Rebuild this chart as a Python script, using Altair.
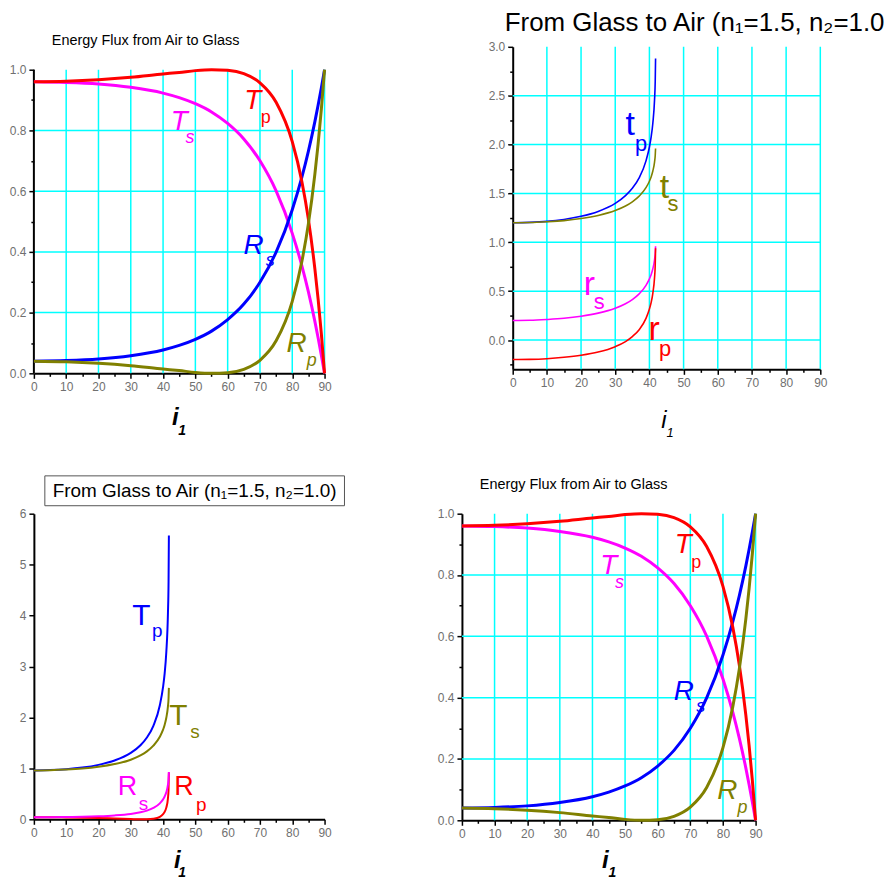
import altair as alt
import pandas as pd

# ---------------- data ----------------
# Energy flux, air -> glass (panels 1 and 4)
ANGLE_AG = [0, 10, 20, 30, 40, 45, 50, 55, 60, 65, 70, 75, 80, 83, 85, 87, 88, 89, 90]
RS_AG = [0.040, 0.042, 0.047, 0.058, 0.077, 0.092, 0.112, 0.139, 0.177, 0.228, 0.300, 0.399, 0.539, 0.647, 0.732, 0.829, 0.883, 0.940, 1.000]
RP_AG = [0.040, 0.038, 0.033, 0.025, 0.014, 0.009, 0.003, 0.000, 0.002, 0.013, 0.043, 0.107, 0.237, 0.370, 0.493, 0.656, 0.755, 0.869, 1.000]
TS_AG = [0.960, 0.958, 0.953, 0.942, 0.923, 0.908, 0.888, 0.861, 0.823, 0.772, 0.700, 0.601, 0.461, 0.353, 0.268, 0.171, 0.117, 0.060, 0.000]
TP_AG = [0.960, 0.962, 0.967, 0.975, 0.986, 0.991, 0.997, 1.000, 0.998, 0.987, 0.957, 0.893, 0.763, 0.630, 0.507, 0.344, 0.245, 0.131, 0.000]

# Glass -> air (panels 2 and 3)
ANGLE_GA = [0, 5, 10, 15, 20, 25, 30, 33, 35, 37, 39, 40, 40.5, 41, 41.5, 41.7, 41.8]
# amplitude coefficients (panel 2)
rs_GA = [0.200, 0.202, 0.210, 0.222, 0.243, 0.275, 0.325, 0.371, 0.414, 0.472, 0.559, 0.625, 0.669, 0.729, 0.821, 0.888, 0.960]
ts_GA = [1.200, 1.202, 1.210, 1.222, 1.243, 1.275, 1.325, 1.371, 1.414, 1.472, 1.559, 1.625, 1.669, 1.729, 1.821, 1.888, 1.960]
rp_GA = [-0.200, -0.198, -0.191, -0.177, -0.156, -0.123, -0.068, -0.016, 0.035, 0.106, 0.222, 0.317, 0.383, 0.478, 0.638, 0.765, 0.940]
tp_GA = [1.200, 1.204, 1.214, 1.234, 1.266, 1.316, 1.398, 1.477, 1.552, 1.659, 1.833, 1.975, 2.075, 2.218, 2.457, 2.647, 2.880]
# energy (panel 3)
RS_GA = [0.040, 0.041, 0.044, 0.049, 0.059, 0.076, 0.106, 0.138, 0.171, 0.223, 0.313, 0.391, 0.448, 0.531, 0.674, 0.789, 0.930]
RP_GA = [0.040, 0.039, 0.037, 0.031, 0.024, 0.015, 0.005, 0.000, 0.001, 0.011, 0.049, 0.101, 0.147, 0.229, 0.407, 0.585, 0.920]
TS_GA = [0.960, 0.964, 0.976, 0.996, 1.030, 1.084, 1.170, 1.253, 1.333, 1.445, 1.620, 1.760, 1.857, 1.993, 2.211, 2.376, 2.580]
TP_GA = [0.960, 0.966, 0.983, 1.015, 1.069, 1.155, 1.303, 1.454, 1.606, 1.835, 2.240, 2.600, 2.869, 3.280, 4.025, 4.671, 5.570]

# tick values
X_TICKS = list(range(0, 95, 5))
GRID_X = list(range(10, 100, 10))
Y_TICKS_E = [round(i * 0.1, 1) for i in range(0, 11)]
GRID_Y_E = [0.2, 0.4, 0.6, 0.8]
Y_TICKS_A = [round(-0.25 + i * 0.25, 2) for i in range(0, 14)]
GRID_Y_A = [0.0, 0.5, 1.0, 1.5, 2.0, 2.5]
Y_TICKS_3 = [i * 0.5 for i in range(0, 13)]

# curve labels (text, angle, value, colour key)
LAB_AG_MAIN = [("T", 67.8, 0.872, "red"), ("T", 45.0, 0.803, "mag"), ("R", 68.0, 0.393, "blue"), ("R", 81.3, 0.070, "olive")]
LAB_AG_SUB_IT = [("s", 48.3, 0.758, "mag"), ("s", 73.2, 0.352, "blue"), ("p", 86.0, 0.025, "olive")]
LAB_AG_SUB_UP = [("p", 71.8, 0.823, "red")]
LAB_A_MAIN = [("t", 34.4, 2.10, "blue"), ("t", 44.4, 1.455, "olive"), ("r", 22.4, 0.46, "mag"), ("r", 41.4, 0.0, "red")]
LAB_A_SUB = [("p", 37.6, 1.93, "blue"), ("s", 46.9, 1.32, "olive"), ("s", 25.3, 0.32, "mag"), ("p", 44.6, -0.16, "red")]
LAB_3_T = [("T", 33.3, 3.81, "blue"), ("T", 44.7, 1.86, "olive")]
LAB_3_R = [("R", 29.0, 0.47, "mag"), ("R", 46.5, 0.47, "red")]
LAB_3_SUB = [("p", 38.2, 3.57, "blue"), ("s", 49.9, 1.60, "olive"), ("s", 33.9, 0.19, "mag"), ("p", 51.8, 0.16, "red")]

TITLE_AG = "Energy Flux from Air to Glass"
TITLE_GA_TOP = "From Glass to Air (n\u2081=1.5, n\u2082=1.0"
TITLE_GA_BOX = "From Glass to Air (n\u2081=1.5, n\u2082=1.0)"

# ---------------- styling ----------------
FONT = "Liberation Sans"
COL = {"red": "#FF0000", "mag": "#FF00FF", "blue": "#0000FF", "olive": "#808000"}
GRID = "#00FFFF"
LABEL_GRAY = "#707070"
ONE = pd.DataFrame({"a": [0]})


def x_axis():
    return alt.Axis(
        values=X_TICKS,
        labelExpr="datum.value % 10 === 0 ? datum.label : ''",
        tickSize={"condition": {"test": "datum.value % 10 === 0", "value": 5}, "value": 3},
        format="d", grid=False, title=None, domainColor="black", domainWidth=2,
        tickColor="black", tickWidth=1.5, labelColor=LABEL_GRAY, labelFont=FONT,
        labelFontSize=12, labelPadding=3, labelFlush=False, labelOverlap=False,
    )


def y_axis(values, test, fmt, domain=True):
    return alt.Axis(
        values=values,
        labelExpr=f"({test}) ? datum.label : ''",
        tickSize={"condition": {"test": test, "value": 5}, "value": 3},
        format=fmt, grid=False, title=None, domain=domain, domainColor="black", domainWidth=2,
        tickColor="black", tickWidth=1.5, labelColor=LABEL_GRAY, labelFont=FONT,
        labelFontSize=12, labelPadding=3, labelFlush=False, labelOverlap=False,
    )


def frame(x1, x2, y1, y2):
    return alt.Chart(ONE).mark_rect(opacity=0).encode(
        x=alt.value(x1), x2=alt.value(x2), y=alt.value(y1), y2=alt.value(y2))


def ptext(txt, x, y, size, style="normal", weight="normal", align="left", color="black"):
    return alt.Chart(ONE).mark_text(
        text=txt, fontSize=size, font=FONT, fontStyle=style, fontWeight=weight,
        align=align, baseline="alphabetic", color=color,
    ).encode(x=alt.value(x), y=alt.value(y))


def curve(xs, ys, color, width, xenc, yenc):
    df = pd.DataFrame({"x": xs, "y": ys})
    return alt.Chart(df).mark_line(color=COL[color], strokeWidth=width, interpolate="monotone").encode(x=xenc, y=yenc)


def labels(rows, size, xenc, yenc, style="normal", weight="normal"):
    df = pd.DataFrame({"t": [r[0] for r in rows], "x": [r[1] for r in rows],
                       "y": [r[2] for r in rows], "c": [COL[r[3]] for r in rows]})
    return alt.Chart(df).mark_text(
        fontSize=size, font=FONT, fontStyle=style, fontWeight=weight, align="center", baseline="alphabetic"
    ).encode(x=xenc, y=yenc, text="t:N", color=alt.Color("c:N", scale=None))


def hgrid(yenc, gy):
    return alt.Chart(pd.DataFrame({"y": gy})).mark_rule(color=GRID, strokeWidth=1.5).encode(y=yenc)


def vgrid(xenc, yenc=None, lo=None, hi=None):
    if yenc is None:
        return alt.Chart(pd.DataFrame({"x": GRID_X})).mark_rule(color=GRID, strokeWidth=1.5).encode(x=xenc)
    df = pd.DataFrame({"x": GRID_X, "y": [lo] * len(GRID_X), "y2": [hi] * len(GRID_X)})
    return alt.Chart(df).mark_rule(color=GRID, strokeWidth=1.5).encode(x=xenc, y=yenc, y2=alt.Y2("y2:Q"))


def y_domain_line(yenc, lo, hi):
    df = pd.DataFrame({"y": [lo], "y2": [hi]})
    return alt.Chart(df).mark_rule(color="black", strokeWidth=2).encode(
        x=alt.value(0), y=yenc, y2=alt.Y2("y2:Q"))


# ---------------- Panel 1 (top-left): plot area extended 23px above 1.0 ----------------
P1_EXTRA = 23
x1 = alt.X("x:Q", scale=alt.Scale(domain=[0, 90], nice=False, zero=False), axis=x_axis())
y1 = alt.Y("y:Q", scale=alt.Scale(domain=[0, 1 + P1_EXTRA / 305], nice=False, zero=False),
           axis=y_axis(Y_TICKS_E, "abs(datum.value*5 - round(datum.value*5)) < 0.001", ".1f", domain=False))
p1 = alt.layer(
    frame(-26, 411, -37, 405),
    vgrid(x1, y1, 0.0, 1.0),
    hgrid(y1, GRID_Y_E),
    y_domain_line(y1, 0.0, 1.0),
    curve(ANGLE_AG, TS_AG, "mag", 3, x1, y1),
    curve(ANGLE_AG, RS_AG, "blue", 3, x1, y1),
    curve(ANGLE_AG, TP_AG, "red", 3, x1, y1),
    curve(ANGLE_AG, RP_AG, "olive", 3, x1, y1),
    labels(LAB_AG_MAIN, 28, x1, y1, style="italic"),
    labels(LAB_AG_SUB_IT, 18, x1, y1, style="italic"),
    labels(LAB_AG_SUB_UP, 18, x1, y1),
    ptext(TITLE_AG, 18, -2, 14.5),
    ptext("i", 142, 380, 24, style="italic", weight="bold", align="center"),
    ptext("1", 149, 390, 14, style="italic", weight="bold", align="center"),
).properties(width=292, height=305 + P1_EXTRA)

# ---------------- Panel 2 (top-right): amplitude coefficients ----------------
x2 = alt.X("x:Q", scale=alt.Scale(domain=[0, 90], nice=False, zero=False), axis=x_axis())
y2 = alt.Y("y:Q", scale=alt.Scale(domain=[-0.3, 3.0], nice=False, zero=False),
           axis=y_axis(Y_TICKS_A, "datum.value >= 0 && abs(datum.value*2 - round(datum.value*2)) < 0.001", ".1f"))
p2 = alt.layer(
    frame(-70, 372, -37, 405),
    vgrid(x2),
    hgrid(y2, GRID_Y_A),
    curve(ANGLE_GA, tp_GA, "blue", 1.6, x2, y2),
    curve(ANGLE_GA, ts_GA, "olive", 1.6, x2, y2),
    curve(ANGLE_GA, rs_GA, "mag", 1.6, x2, y2),
    curve(ANGLE_GA, rp_GA, "red", 1.6, x2, y2),
    labels(LAB_A_MAIN, 34, x2, y2),
    labels(LAB_A_SUB, 22, x2, y2),
    ptext(TITLE_GA_TOP, -8, -16, 26),
    ptext("i", 152, 383, 24, style="italic", align="center"),
    ptext("1", 158, 392, 13, style="italic", align="center"),
).properties(width=309, height=324)

# ---------------- Panel 3 (bottom-left): energy glass -> air ----------------
x3 = alt.X("x:Q", scale=alt.Scale(domain=[0, 90], nice=False, zero=False), axis=x_axis())
y3 = alt.Y("y:Q", scale=alt.Scale(domain=[0, 6], nice=False, zero=False),
           axis=y_axis(Y_TICKS_3, "datum.value % 1 === 0", "d"))
p3 = alt.layer(
    frame(-26, 405, -64, 365),
    curve(ANGLE_GA, RP_GA, "red", 2, x3, y3),
    curve(ANGLE_GA, RS_GA, "mag", 2, x3, y3),
    curve(ANGLE_GA, TP_GA, "blue", 2, x3, y3),
    curve(ANGLE_GA, TS_GA, "olive", 2, x3, y3),
    labels(LAB_3_T, 30, x3, y3),
    labels(LAB_3_R, 27, x3, y3),
    labels(LAB_3_SUB, 19, x3, y3),
    alt.Chart(ONE).mark_rect(fill="white", stroke="#555555", strokeWidth=1).encode(
        x=alt.value(11), x2=alt.value(312), y=alt.value(-38), y2=alt.value(-8)),
    ptext(TITLE_GA_BOX, 161.5, -17, 19, align="center"),
    ptext("i", 144, 356, 24, style="italic", weight="bold", align="center"),
    ptext("1", 149, 365, 14, style="italic", weight="bold", align="center"),
).properties(width=292, height=307)

# ---------------- Panel 4 (bottom-right): energy air -> glass ----------------
x4 = alt.X("x:Q", scale=alt.Scale(domain=[0, 90], nice=False, zero=False), axis=x_axis())
y4 = alt.Y("y:Q", scale=alt.Scale(domain=[0, 1], nice=False, zero=False),
           axis=y_axis(Y_TICKS_E, "abs(datum.value*5 - round(datum.value*5)) < 0.001", ".1f"))
p4 = alt.layer(
    frame(-22, 426, -62, 367),
    vgrid(x4),
    hgrid(y4, GRID_Y_E),
    curve(ANGLE_AG, TS_AG, "mag", 3, x4, y4),
    curve(ANGLE_AG, RS_AG, "blue", 3, x4, y4),
    curve(ANGLE_AG, TP_AG, "red", 3, x4, y4),
    curve(ANGLE_AG, RP_AG, "olive", 3, x4, y4),
    labels(LAB_AG_MAIN, 28, x4, y4, style="italic"),
    labels(LAB_AG_SUB_IT, 18, x4, y4, style="italic"),
    labels(LAB_AG_SUB_UP, 18, x4, y4),
    ptext(TITLE_AG, 18, -25, 14.5),
    ptext("i", 144, 356, 24, style="italic", weight="bold", align="center"),
    ptext("1", 151, 365, 14, style="italic", weight="bold", align="center"),
).properties(width=295, height=308)

row1 = alt.hconcat(p1, p2, spacing=0)
row2 = alt.hconcat(p3, p4, spacing=0)
chart = alt.vconcat(row1, row2, spacing=0).properties(
    padding=0, background="white"
).configure_view(stroke=None)

chart.save("out.html", embed_options={"renderer": "svg", "actions": False})
